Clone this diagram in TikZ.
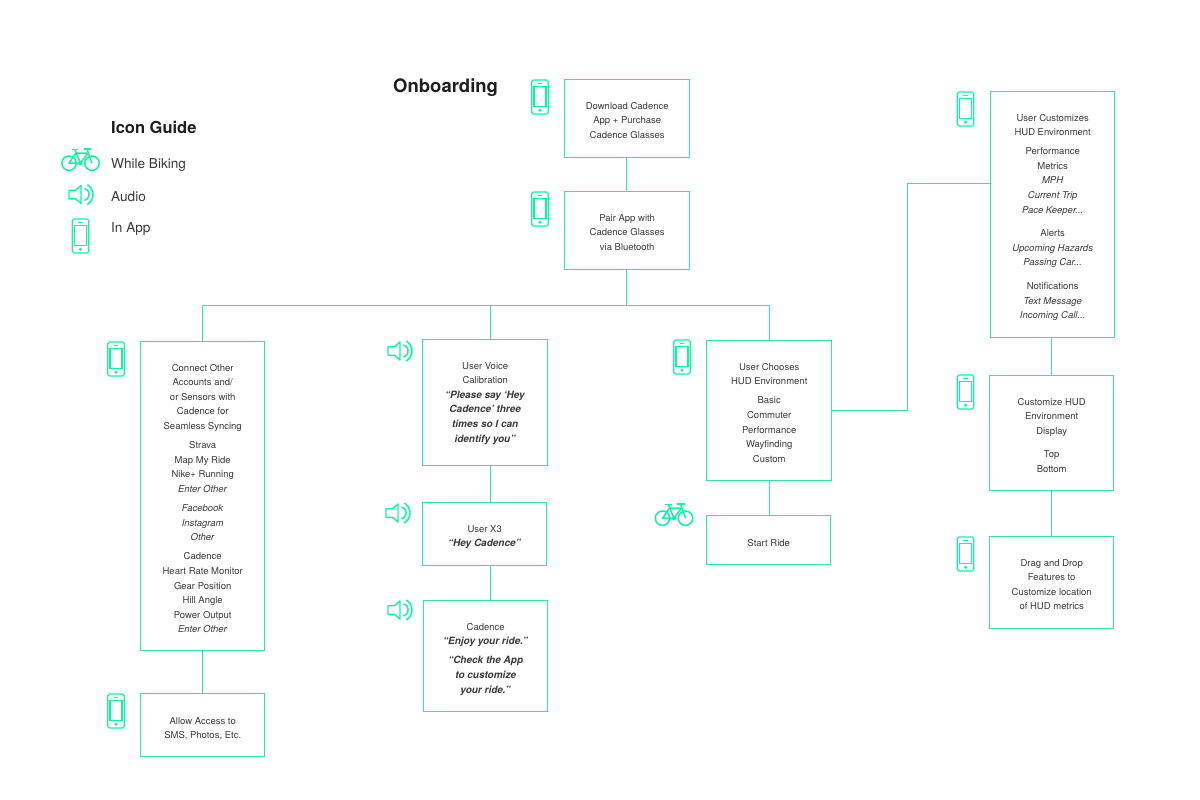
\documentclass[tikz,border=0pt]{standalone}
\usepackage{fontspec}
\setmainfont{TeX Gyre Heros}
\definecolor{lineC}{HTML}{35E0B4}
\definecolor{iconC}{HTML}{0CF5A6}
\definecolor{inkC}{HTML}{3A3A3A}
\definecolor{headC}{HTML}{1E1E1E}
\tikzset{
  flowbox/.style={draw=lineC,line width=1pt,inner sep=0pt,fill=none},
  conn/.style={draw=lineC,line width=1pt},
  boxtext/.style={inner sep=0pt,anchor=north,align=center,text=inkC,font=\fontsize{9.5}{14.6}\selectfont},
  legendtext/.style={inner sep=0pt,anchor=west,text=inkC,font=\fontsize{13.6}{16}\selectfont},
  headtext/.style={inner sep=0pt,text=headC,font=\bfseries},
  phoneicon/.pic={
    \draw[draw=iconC,line width=1.2pt,rounded corners=1.6pt] (-8.2,-17) rectangle (8.2,17);
    \draw[draw=iconC,line width=1.2pt] (-6,-10.5) rectangle (6,9.5);
    \draw[draw=iconC,line width=.8pt] (-2.2,-13.8) -- (2.2,-13.8);
    \fill[iconC] (0,13.2) circle (1.7);
  },
  speakericon/.pic={
    \draw[draw=iconC,line width=1.4pt,line join=round] (-12,-4.3) -- (-5.5,-4.3) -- (0,-9) -- (0,9) -- (-5.5,4.3) -- (-12,4.3) -- cycle;
    \draw[draw=iconC,line width=1.5pt] (3.5,-6) arc[start angle=-75,end angle=75,radius=6.2];
    \draw[draw=iconC,line width=1.5pt] (6.5,-10) arc[start angle=-58,end angle=58,radius=11.8];
  },
  bikeicon/.pic={
    \draw[draw=iconC,line width=1.5pt] (-11.5,3.7) circle (7.2) (11.5,3.7) circle (7.2);
    \draw[draw=iconC,line width=1.5pt,line join=round] (-11.5,3.7) -- (-4.5,-6.5) -- (7.5,-6.5) -- (0,3.7) -- cycle;
    \draw[draw=iconC,line width=1.5pt] (-5.5,-9.5) -- (0,3.7);
    \draw[draw=iconC,line width=1.5pt] (11.5,3.7) -- (6.5,-10.5);
    \draw[draw=iconC,line width=1.9pt] (-9,-10) -- (-2.5,-10);
    \draw[draw=iconC,line width=1.6pt] (3,-10.8) -- (10.5,-10.8);
    \fill[iconC] (0,3.7) circle (2);
  }
}
\newcommand{\flowb}[7]{%
  \pgfmathsetmacro{\bcx}{(#2+#4)/2-0.3}\pgfmathsetmacro{\bcy}{(#3+#5)/2-0.3}%
  \pgfmathsetmacro{\bw}{#4-#2}\pgfmathsetmacro{\bh}{#5-#3}%
  \pgfmathsetmacro{\ty}{#6-3.2}%
  \node[flowbox,minimum width=\bw pt,minimum height=\bh pt] (#1) at (\bcx,\bcy) {};
  \node[boxtext] (#1text) at (\bcx,\ty) {\rule{0pt}{7pt}#7};
}
\newcommand{\bi}[1]{{\fontsize{10}{14.6}\selectfont\textbf{\textit{#1}}}}
\begin{document}
\begin{tikzpicture}[x=1pt,y=-1pt]
\useasboundingbox[fill=white] (0,0) rectangle (1200,800);

\node[headtext,anchor=west,font=\bfseries\fontsize{18.5}{20}\selectfont] (title) at (393,88) {Onboarding};
\node[headtext,anchor=west,font=\bfseries\fontsize{16.5}{18}\selectfont] (guide) at (111,127) {Icon Guide};
\node[legendtext] (lbike) at (111,165) {While Biking};
\node[legendtext] (laudio) at (111,196.5) {Audio};
\node[legendtext] (lapp) at (111,229) {In App};

\flowb{download}{565}{80}{690}{158}{105}{Download Cadence\\App + Purchase\\Cadence Glasses}
\flowb{pair}{565}{192}{690}{270}{217}{Pair App with\\Cadence Glasses\\via Bluetooth}
\flowb{connect}{141}{342}{265}{651}{367}{Connect Other\\Accounts and/\\or Sensors with\\Cadence for\\Seamless Syncing\\[4.5pt]Strava\\Map My Ride\\Nike+ Running\\\textit{Enter Other}\\[4.5pt]\textit{Facebook}\\\textit{Instagram}\\\textit{Other}\\[4.5pt]Cadence\\Heart Rate Monitor\\Gear Position\\Hill Angle\\Power Output\\\textit{Enter Other}}
\flowb{allow}{141}{694}{265}{757}{720}{Allow Access to\\SMS, Photos, Etc.}
\flowb{voice}{423}{340}{548}{466}{365}{User Voice\\Calibration\\\bi{“Please say ‘Hey}\\\bi{Cadence’ three}\\\bi{times so I can}\\\bi{identify you”}}
\flowb{xthree}{423}{503}{547}{566}{528}{User X3\\\bi{“Hey Cadence”}}
\flowb{cadence}{424}{601}{548}{712}{626}{Cadence\\\bi{“Enjoy your ride.”}\\[4.5pt]\bi{“Check the App}\\\bi{to customize}\\\bi{your ride.”}}
\flowb{chooses}{707}{341}{832}{481}{366}{User Chooses\\HUD Environment\\[4.5pt]Basic\\Commuter\\Performance\\Wayfinding\\Custom}
\flowb{start}{707}{516}{831}{565}{542}{Start Ride}
\flowb{customizes}{991}{92}{1115}{338}{117}{User Customizes\\HUD Environment\\[4.5pt]Performance\\Metrics\\\textit{MPH}\\\textit{Current Trip}\\\textit{Pace Keeper...}\\[9pt]Alerts\\\textit{Upcoming Hazards}\\\textit{Passing Car...}\\[9pt]Notifications\\\textit{Text Message}\\\textit{Incoming Call...}}
\flowb{display}{990}{376}{1114}{491}{401}{Customize HUD\\Environment\\Display\\[9pt]Top\\Bottom}
\flowb{drag}{990}{537}{1114}{629}{562}{Drag and Drop\\Features to\\Customize location\\of HUD metrics}

% routing guides
\coordinate (xtop) at (626,0);
\coordinate (busy) at (0,305);
\coordinate (xvoice) at (490,0);
\coordinate (xchoose) at (769,0);
\coordinate (xcust) at (1051,0);
\coordinate (elbow) at (907,183);

\draw[conn] (download.south -| xtop) -- (pair.north -| xtop);
\draw[conn] (pair.south -| xtop) -- (xtop |- busy);
\draw[conn] (busy -| connect.north) -- (busy -| xchoose);
\draw[conn] (busy -| connect.north) -- (connect.north);
\draw[conn] (busy -| xvoice) -- (voice.north -| xvoice);
\draw[conn] (busy -| xchoose) -- (chooses.north -| xchoose);
\draw[conn] (connect.south) -- (allow.north);
\draw[conn] (voice.south -| xvoice) -- (xthree.north -| xvoice);
\draw[conn] (xthree.south -| xvoice) -- (cadence.north -| xvoice);
\draw[conn] (chooses.south -| xchoose) -- (start.north -| xchoose);
\draw[conn] (chooses.east) -| (elbow) -- (elbow -| customizes.west);
\draw[conn] (customizes.south -| xcust) -- (display.north -| xcust);
\draw[conn] (display.south -| xcust) -- (drag.north -| xcust);

% icons
\pic at (80.5,159.5) {bikeicon};
\pic at (674,514.5) {bikeicon};
\pic at (81,194.5) {speakericon};
\pic at (400,351) {speakericon};
\pic at (398,513) {speakericon};
\pic at (400,610) {speakericon};
\pic at (80.5,236) {phoneicon};
\pic at (540,97) {phoneicon};
\pic at (540,209) {phoneicon};
\pic at (116,359) {phoneicon};
\pic at (116,711) {phoneicon};
\pic at (682,357) {phoneicon};
\pic at (965.5,109) {phoneicon};
\pic at (965.5,392) {phoneicon};
\pic at (965.5,554) {phoneicon};
\end{tikzpicture}
\end{document}
